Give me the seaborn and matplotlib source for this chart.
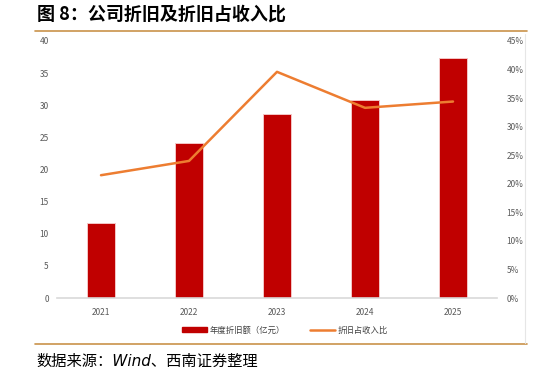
import matplotlib
matplotlib.use("Agg")
import matplotlib.pyplot as plt
import seaborn as sns
import pandas as pd
from matplotlib.lines import Line2D
from matplotlib.patches import Patch

years = ["2021", "2022", "2023", "2024", "2025"]
depreciation = [11.6, 24.1, 28.7, 30.8, 37.4]
ratio = [21.5, 24.0, 39.6, 33.3, 34.4]
left_ticks = [0, 5, 10, 15, 20, 25, 30, 35, 40]
right_ticks = [0, 5, 10, 15, 20, 25, 30, 35, 40, 45]

sns.set_theme(style="white")
plt.rcParams['font.family'] = ['Noto Sans CJK SC', 'DejaVu Sans']

df = pd.DataFrame({"year": years, "dep": depreciation, "ratio": ratio})

fig = plt.figure(figsize=(5.36, 3.77), dpi=100)
ax = fig.add_axes([57/536, 1-298/377, 440/536, 257/377])

bar_color = "#C00000"
line_color = "#ED7D31"
tick_color = "#595959"

sns.barplot(data=df, x="year", y="dep", color=bar_color, width=0.31,
            edgecolor="#F4C6C6", linewidth=0.7, saturation=1, ax=ax)
ax.set_ylim(0, 40)
ax.set_yticks(left_ticks)
ax.set_xlabel("")
ax.set_ylabel("")
for s in ["top", "right", "left"]:
    ax.spines[s].set_visible(False)
ax.spines["bottom"].set_color("#D9D9D9")
ax.spines["bottom"].set_linewidth(1.2)
ax.tick_params(axis="both", length=0, labelsize=6, colors=tick_color, pad=7)
ax.tick_params(axis="y", pad=6)

ax2 = ax.twinx()
sns.lineplot(data=df, x="year", y="ratio", color=line_color, linewidth=1.8, ax=ax2)
ax2.set_ylim(0, 45)
ax2.set_yticks(right_ticks)
ax2.set_yticklabels([f"{t}%" for t in right_ticks])
ax2.set_ylabel("")
ax2.set_xlabel("")
for s in ["top", "right", "left", "bottom"]:
    ax2.spines[s].set_visible(False)
ax2.tick_params(axis="y", length=0, labelsize=6, colors=tick_color, pad=7)
ax2.grid(False)
ax.set_xlim(-0.5, 4.5)

handles = [Patch(facecolor=bar_color, edgecolor=bar_color),
           Line2D([0], [0], color=line_color, linewidth=1.8)]
labels = ["年度折旧额（亿元）", "折旧占收入比"]
fig.legend(handles, labels, loc="center", bbox_to_anchor=(285/536, 1-330/377),
           ncol=2, frameon=False, fontsize=6, handlelength=3, handleheight=0.6,
           columnspacing=3, handletextpad=0.3, labelcolor="#404040")

# title and frame lines
fig.text(37/536, 1-14/377, "图 8：公司折旧及折旧占收入比", fontsize=13, fontweight="bold",
         va="center", ha="left", color="#000000")
fig.add_artist(Line2D([35/536, 527/536], [1-31/377, 1-31/377], color="#C9924A", linewidth=1.2))
fig.add_artist(Line2D([35/536, 527/536], [1-344/377, 1-344/377], color="#C9924A", linewidth=1.2))
fig.add_artist(Line2D([525/536, 525/536], [1-34/377, 1-343/377], color="#E6E6E6", linewidth=0.8))
fig.text(36/536, 1-361/377, "数据来源：Wind、西南证券整理", fontsize=11, style="italic",
         family=['DejaVu Sans', 'Noto Sans CJK SC'],
         va="center", ha="left", color="#000000")

fig.savefig("out.png", dpi=100)
